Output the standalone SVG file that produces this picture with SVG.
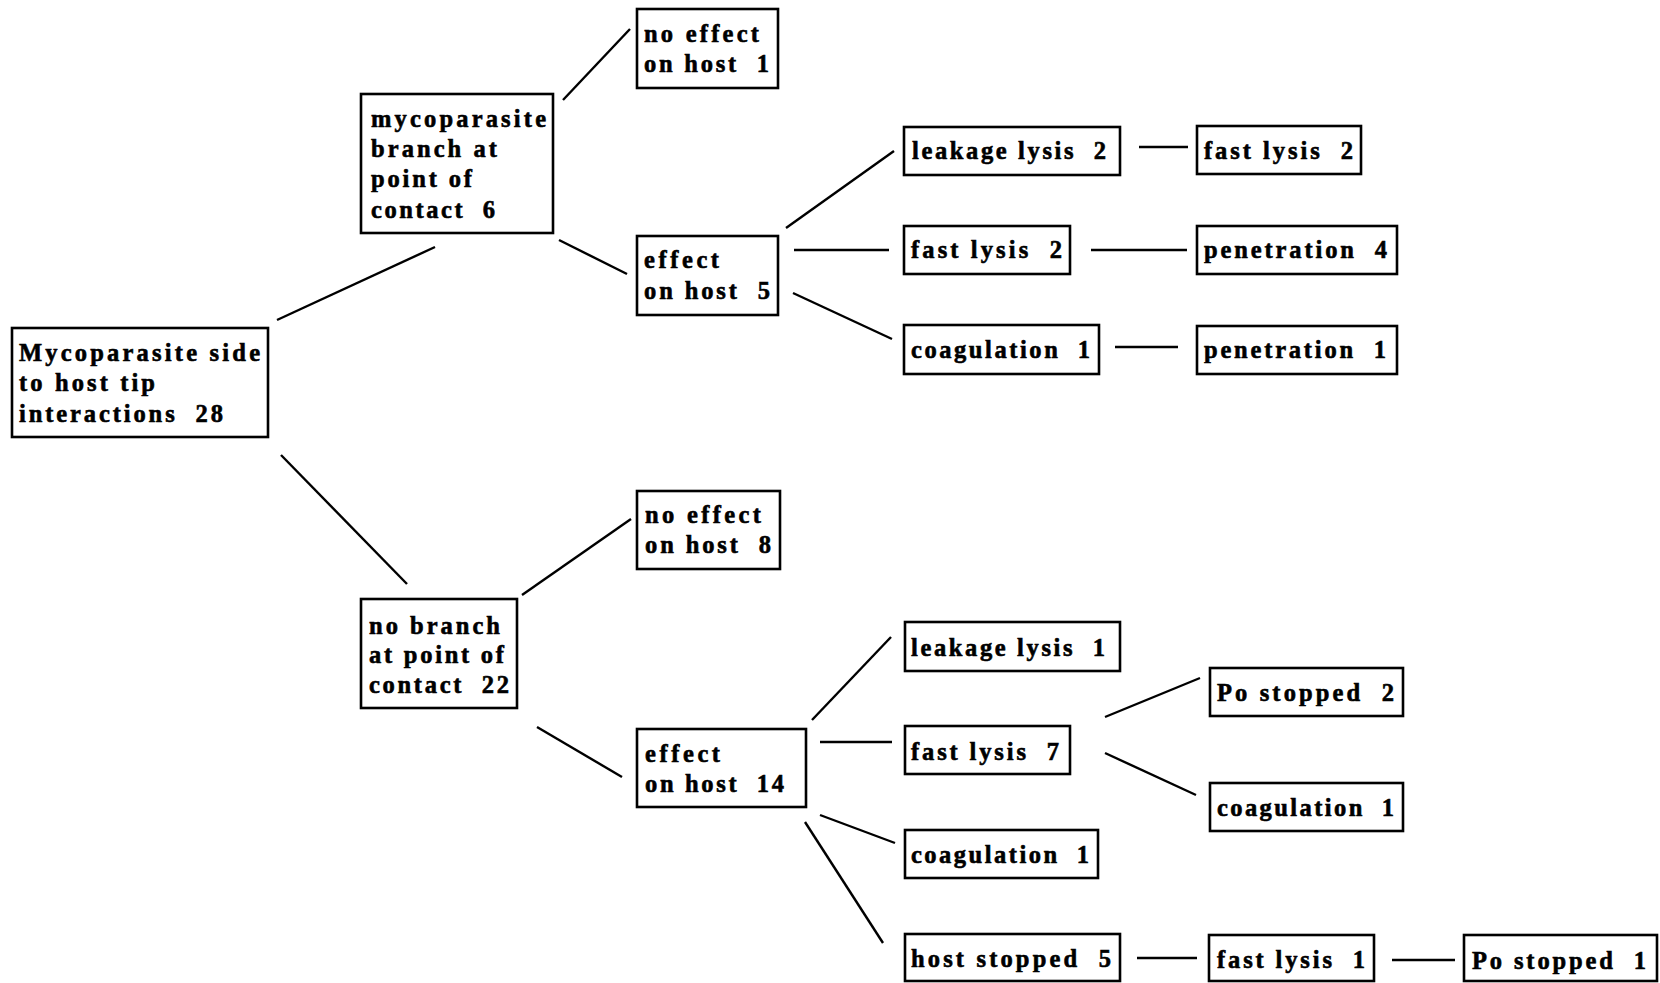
<svg xmlns="http://www.w3.org/2000/svg" width="1660" height="983" viewBox="0 0 1660 983">
<style>
rect.box{fill:#fff;stroke:#000;stroke-width:2.6}
#connectors line{stroke:#000;stroke-width:2.4;stroke-linecap:butt}
text{font-family:"Liberation Serif","Times New Roman",serif;font-weight:bold;font-size:24.5px;fill:#000;stroke:#000;stroke-width:0.6;white-space:pre}
</style>
<rect width="1660" height="983" fill="#fff"/>
<g id="connectors">
<line x1="277" y1="320" x2="435" y2="247"/>
<line x1="281" y1="455" x2="407" y2="584"/>
<line x1="563" y1="100" x2="630" y2="29"/>
<line x1="559" y1="240" x2="627" y2="274"/>
<line x1="786" y1="228" x2="894" y2="151"/>
<line x1="794" y1="250" x2="889" y2="250"/>
<line x1="793" y1="293" x2="892" y2="339"/>
<line x1="1139" y1="147" x2="1188" y2="147"/>
<line x1="1091" y1="250" x2="1187" y2="250"/>
<line x1="1115" y1="347" x2="1178" y2="347"/>
<line x1="522" y1="595" x2="631" y2="519"/>
<line x1="537" y1="727" x2="622" y2="777"/>
<line x1="812" y1="720" x2="891" y2="637"/>
<line x1="820" y1="742" x2="892" y2="742"/>
<line x1="820" y1="815" x2="895" y2="843"/>
<line x1="805" y1="822" x2="883" y2="943"/>
<line x1="1105" y1="717" x2="1200" y2="678"/>
<line x1="1105" y1="753" x2="1196" y2="795"/>
<line x1="1137" y1="958" x2="1197" y2="958"/>
<line x1="1392" y1="960" x2="1455" y2="960"/>
</g>
<g id="n_root"><rect class="box" x="12" y="328" width="256" height="109"/>
<text x="19" y="360.5" textLength="241" lengthAdjust="spacing">Mycoparasite side</text>
<text x="19" y="390.5" textLength="136" lengthAdjust="spacing">to host tip</text>
<text x="19" y="421.5" textLength="204" lengthAdjust="spacing">interactions  28</text></g>
<g id="n_branch"><rect class="box" x="361" y="94" width="192" height="139"/>
<text x="371" y="126.5" textLength="175" lengthAdjust="spacing">mycoparasite</text>
<text x="371" y="156.5" textLength="126" lengthAdjust="spacing">branch at</text>
<text x="371" y="186.5" textLength="101" lengthAdjust="spacing">point of</text>
<text x="371" y="217.5" textLength="124" lengthAdjust="spacing">contact  6</text></g>
<g id="n_noeffect1"><rect class="box" x="637" y="9" width="141" height="79"/>
<text x="644" y="41.5" textLength="115" lengthAdjust="spacing">no effect</text>
<text x="644" y="71.5" textLength="125" lengthAdjust="spacing">on host  1</text></g>
<g id="n_effect5"><rect class="box" x="637" y="236" width="141" height="79"/>
<text x="644" y="267.5" textLength="75" lengthAdjust="spacing">effect</text>
<text x="644" y="298.5" textLength="126" lengthAdjust="spacing">on host  5</text></g>
<g id="n_leak2"><rect class="box" x="904" y="127" width="216" height="48"/>
<text x="912" y="158.5" textLength="194" lengthAdjust="spacing">leakage lysis  2</text></g>
<g id="n_fast2a"><rect class="box" x="904" y="226" width="166" height="48"/>
<text x="911" y="257.5" textLength="151" lengthAdjust="spacing">fast lysis  2</text></g>
<g id="n_coag1a"><rect class="box" x="904" y="325" width="195" height="49"/>
<text x="911" y="357.5" textLength="179" lengthAdjust="spacing">coagulation  1</text></g>
<g id="n_fast2b"><rect class="box" x="1197" y="126" width="164" height="48"/>
<text x="1204" y="158.5" textLength="149" lengthAdjust="spacing">fast lysis  2</text></g>
<g id="n_pen4"><rect class="box" x="1197" y="226" width="200" height="48"/>
<text x="1204" y="257.5" textLength="183" lengthAdjust="spacing">penetration  4</text></g>
<g id="n_pen1"><rect class="box" x="1197" y="326" width="200" height="48"/>
<text x="1204" y="357.5" textLength="182" lengthAdjust="spacing">penetration  1</text></g>
<g id="n_nobranch"><rect class="box" x="361" y="599" width="156" height="109"/>
<text x="369" y="633.5" textLength="131" lengthAdjust="spacing">no branch</text>
<text x="369" y="662.5" textLength="135" lengthAdjust="spacing">at point of</text>
<text x="369" y="692.5" textLength="140" lengthAdjust="spacing">contact  22</text></g>
<g id="n_noeffect8"><rect class="box" x="637" y="491" width="143" height="78"/>
<text x="645" y="522.5" textLength="116" lengthAdjust="spacing">no effect</text>
<text x="645" y="552.5" textLength="126" lengthAdjust="spacing">on host  8</text></g>
<g id="n_effect14"><rect class="box" x="637" y="729" width="169" height="78"/>
<text x="645" y="761.5" textLength="75" lengthAdjust="spacing">effect</text>
<text x="645" y="791.5" textLength="139" lengthAdjust="spacing">on host  14</text></g>
<g id="n_leak1"><rect class="box" x="905" y="622" width="215" height="49"/>
<text x="911" y="655.5" textLength="194" lengthAdjust="spacing">leakage lysis  1</text></g>
<g id="n_fast7"><rect class="box" x="905" y="726" width="165" height="48"/>
<text x="911" y="759.5" textLength="148" lengthAdjust="spacing">fast lysis  7</text></g>
<g id="n_coag1b"><rect class="box" x="905" y="830" width="193" height="48"/>
<text x="911" y="862.5" textLength="178" lengthAdjust="spacing">coagulation  1</text></g>
<g id="n_hoststop5"><rect class="box" x="905" y="934" width="215" height="47"/>
<text x="911" y="966.5" textLength="200" lengthAdjust="spacing">host stopped  5</text></g>
<g id="n_po2"><rect class="box" x="1210" y="668" width="193" height="48"/>
<text x="1217" y="700.5" textLength="177" lengthAdjust="spacing">Po stopped  2</text></g>
<g id="n_coag1c"><rect class="box" x="1210" y="783" width="193" height="48"/>
<text x="1217" y="815.5" textLength="177" lengthAdjust="spacing">coagulation  1</text></g>
<g id="n_fast1"><rect class="box" x="1209" y="935" width="165" height="46"/>
<text x="1217" y="967.5" textLength="148" lengthAdjust="spacing">fast lysis  1</text></g>
<g id="n_po1"><rect class="box" x="1464" y="935" width="193" height="46"/>
<text x="1472" y="968.5" textLength="174" lengthAdjust="spacing">Po stopped  1</text></g>
</svg>
